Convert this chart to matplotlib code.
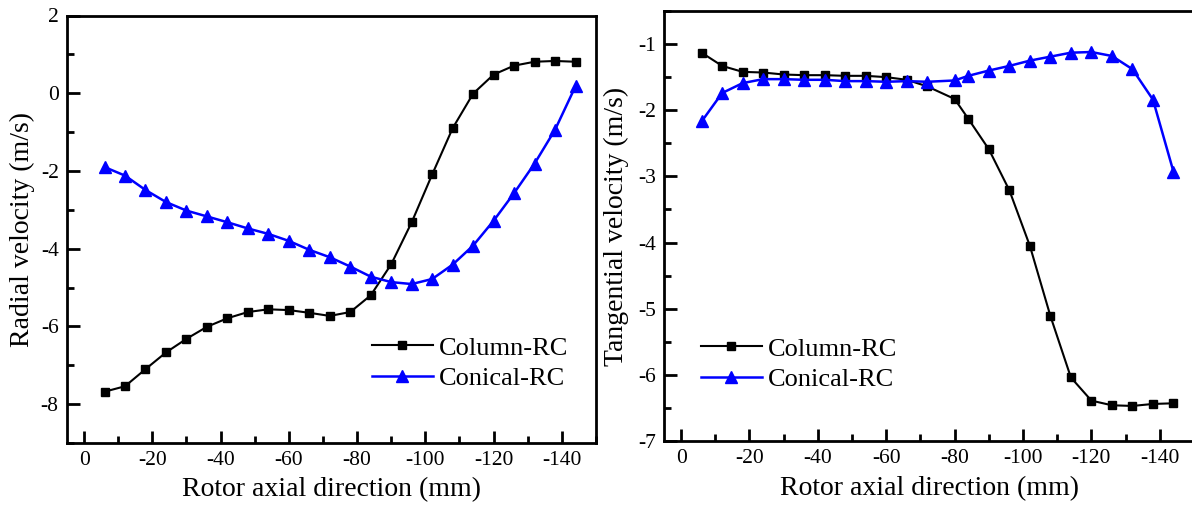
import matplotlib
matplotlib.use("Agg")
import matplotlib.pyplot as plt
from matplotlib.ticker import MultipleLocator

plt.rcParams['font.family'] = ['Liberation Serif', 'DejaVu Serif']
plt.rcParams['axes.unicode_minus'] = False

# axial positions (mm)
x_radial = [-6, -12, -18, -24, -30, -36, -42, -48, -54, -60, -66, -72,
            -78, -84, -90, -96, -102, -108, -114, -120, -126, -132, -138, -144]
x_tang = [-6, -12, -18, -24, -30, -36, -42, -48, -54, -60, -66, -72,
          -80, -84, -90, -96, -102, -108, -114, -120, -126, -132, -138, -144]

# radial velocity (m/s)
radial_column = [-7.68, -7.54, -7.10, -6.67, -6.32, -6.01, -5.79, -5.63, -5.56, -5.58, -5.65, -5.73,
                 -5.63, -5.20, -4.40, -3.32, -2.09, -0.90, -0.01, 0.48, 0.71, 0.81, 0.83, 0.81]
radial_conical = [-1.90, -2.12, -2.49, -2.80, -3.02, -3.17, -3.32, -3.48, -3.62, -3.80, -4.03, -4.22,
                  -4.46, -4.72, -4.86, -4.91, -4.78, -4.41, -3.92, -3.28, -2.57, -1.81, -0.94, 0.18]

# tangential velocity (m/s)
tang_column = [-1.13, -1.33, -1.42, -1.43, -1.46, -1.47, -1.47, -1.48, -1.48, -1.50, -1.54, -1.64,
               -1.83, -2.13, -2.59, -3.21, -4.05, -5.11, -6.04, -6.39, -6.46, -6.47, -6.44, -6.43]
tang_conical = [-2.17, -1.74, -1.59, -1.53, -1.53, -1.54, -1.54, -1.56, -1.56, -1.57, -1.56, -1.57,
                -1.55, -1.48, -1.40, -1.33, -1.25, -1.19, -1.13, -1.12, -1.18, -1.38, -1.84, -2.93]

W, H = 1192, 508
fig = plt.figure(figsize=(W / 100, H / 100), dpi=100)


def px_box(l, t, r, b):
    return [l / W, 1 - b / H, (r - l) / W, (b - t) / H]


ax1 = fig.add_axes(px_box(67, 15.5, 596, 443))
ax2 = fig.add_axes(px_box(664, 11, 1194, 441))


def style(ax, ylim, ymajor, ylabel, ylab_x):
    ax.set_xlim(5, -150)
    ax.set_ylim(*ylim)
    ax.xaxis.set_major_locator(MultipleLocator(20))
    ax.xaxis.set_minor_locator(MultipleLocator(10))
    ax.yaxis.set_major_locator(MultipleLocator(ymajor))
    ax.yaxis.set_minor_locator(MultipleLocator(ymajor / 2))
    ax.tick_params(which='both', direction='in', top=False, right=False, width=2, labelsize=15.5)
    ax.tick_params(which='major', length=9, pad=6)
    ax.tick_params(which='minor', length=5)
    for s in ax.spines.values():
        s.set_linewidth(2)
    ax.set_xlabel("Rotor axial direction (mm)", fontsize=20, va='center')
    ax.xaxis.set_label_coords(0.5, -0.11)
    ax.set_ylabel(ylabel, fontsize=20, va='center')
    ax.yaxis.set_label_coords(ylab_x, 0.5)


def add_legend(ax, x0, yc):
    ax.legend(loc='center left', bbox_to_anchor=(x0 / W, 1 - yc / H), bbox_transform=fig.transFigure,
              frameon=False, fontsize=19, handlelength=2.3, handletextpad=0.25,
              borderpad=0, borderaxespad=0, labelspacing=0.25)


ax1.plot(x_radial, radial_column, '-s', color='black', lw=1.5, ms=6, label='Column-RC')
ax1.plot(x_radial, radial_conical, '-^', color='blue', lw=1.8, ms=8, label='Conical-RC')
style(ax1, (-9, 2), 2, "Radial velocity (m/s)", -0.085)
add_legend(ax1, 372, 363)

ax2.plot(x_tang, tang_column, '-s', color='black', lw=1.5, ms=6, label='Column-RC')
ax2.plot(x_tang, tang_conical, '-^', color='blue', lw=1.8, ms=8, label='Conical-RC')
style(ax2, (-7, -0.5), 1, "Tangential velocity (m/s)", -0.089)
ax2.spines['right'].set_visible(False)
add_legend(ax2, 701, 364)

fig.savefig("out.png", dpi=100)
